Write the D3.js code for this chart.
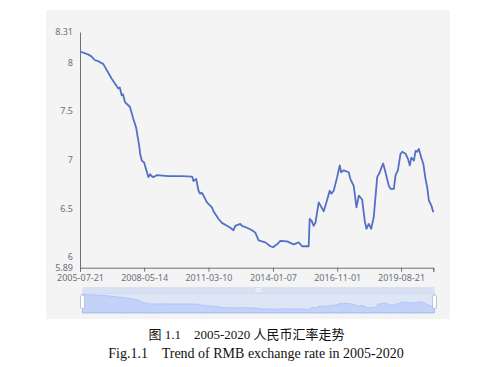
<!DOCTYPE html>
<html>
<head>
<meta charset="utf-8">
<script src="https://cdn.jsdelivr.net/npm/d3@7"></script>
<style>
  html, body { margin: 0; padding: 0; background: #fff; }
  svg { display: block; }
  .caption { white-space: pre; }
</style>
</head>
<body>
<svg id="chart" width="501" height="367" viewBox="0 0 501 367"></svg>
<script>
// USD/CNY rate
const dates = [
  "2005-07-21", "2005-11-26", "2006-01-20", "2006-03-18", "2006-05-10", "2006-07-30", "2006-12-11",
  "2007-03-27", "2007-04-20", "2007-05-20", "2007-06-10", "2007-07-12", "2007-09-30", "2007-11-22",
  "2008-01-06", "2008-02-27", "2008-03-10", "2008-04-06", "2008-05-13",
  "2008-07-21", "2008-08-18", "2008-09-10", "2008-10-09", "2008-12-03", "2009-06-01",
  "2010-01-10", "2010-06-23", "2010-07-13", "2010-08-26", "2010-10-02",
  "2010-10-29", "2010-11-25", "2010-12-21", "2011-02-14", "2011-05-05",
  "2011-05-30", "2011-08-19", "2011-10-12", "2011-12-31", "2012-02-23",
  "2012-04-15", "2012-05-13", "2012-08-01", "2012-08-28", "2012-11-16",
  "2013-02-05", "2013-03-30", "2013-05-22", "2013-09-06", "2013-11-26",
  "2014-01-08", "2014-03-13", "2014-05-05", "2014-08-21", "2014-12-04",
  "2015-02-23", "2015-04-18", "2015-08-02", "2015-08-18", "2015-09-19",
  "2015-10-21", "2015-11-18", "2016-01-10", "2016-02-06", "2016-03-30",
  "2016-05-12", "2016-07-04", "2016-07-31", "2016-09-06", "2016-10-31",
  "2016-12-12", "2017-01-03", "2017-02-14", "2017-05-05", "2017-06-01",
  "2017-07-24", "2017-09-06", "2017-10-13", "2017-12-06", "2018-01-17",
  "2018-02-13", "2018-03-22", "2018-04-30", "2018-06-10", "2018-08-04",
  "2018-09-15", "2018-10-12", "2018-11-08", "2018-12-15", "2019-02-06",
  "2019-03-06", "2019-04-28", "2019-05-25", "2019-07-01", "2019-08-13",
  "2019-09-09", "2019-11-01", "2019-12-08", "2020-01-09", "2020-02-01",
  "2020-03-14", "2020-04-10", "2020-05-07", "2020-06-02", "2020-07-10",
  "2020-08-11", "2020-09-17", "2020-10-15", "2020-11-09", "2020-12-18",
  "2021-01-19"
];
const rates = [
  8.11, 8.08, 8.06, 8.02, 8.01, 7.98, 7.83,
  7.73, 7.74, 7.66, 7.67, 7.59, 7.54, 7.42,
  7.33, 7.13, 7.06, 6.99, 6.97,
  6.82, 6.85, 6.83, 6.82, 6.84, 6.83,
  6.83, 6.825, 6.78, 6.80, 6.68,
  6.65, 6.66, 6.63, 6.56, 6.51,
  6.47, 6.39, 6.35, 6.32, 6.30,
  6.275, 6.32, 6.34, 6.32, 6.30,
  6.275, 6.25, 6.17, 6.15, 6.11,
  6.10, 6.13, 6.165, 6.16, 6.13,
  6.15, 6.11, 6.11, 6.39, 6.37,
  6.32, 6.35, 6.56, 6.53, 6.47,
  6.56, 6.68, 6.65, 6.68, 6.82,
  6.94, 6.87, 6.89, 6.87, 6.80,
  6.73, 6.51, 6.63, 6.59, 6.37,
  6.29, 6.34, 6.29, 6.41, 6.82,
  6.87, 6.92, 6.96, 6.87, 6.73,
  6.70, 6.70, 6.84, 6.89, 7.06,
  7.08, 7.06, 7.01, 6.94, 7.02,
  6.99, 7.09, 7.08, 7.11, 7.02,
  6.96, 6.80, 6.71, 6.58, 6.53,
  6.46
];
const xTickLabels = ["2005-07-21", "2008-05-14", "2011-03-10", "2014-01-07", "2016-11-01", "2019-08-21"];
const yTickValues = [5.89, 6, 6.5, 7, 7.5, 8, 8.31];
const captionCn = "图 1.1    2005-2020 人民币汇率走势";
const captionEn = "Fig.1.1    Trend of RMB exchange rate in 2005-2020";

const parse = d3.timeParse("%Y-%m-%d");
const data = dates.map((d, i) => ({ date: parse(d), value: rates[i] }));

const svg = d3.select("#chart");
const axisColor = "#6e7079";
const tickFont = "'Noto Sans', 'DejaVu Sans', sans-serif";

// panel background
svg.append("rect")
  .attr("x", 46).attr("y", 10)
  .attr("width", 404).attr("height", 309)
  .attr("fill", "#f4f4f4");

const x = d3.scaleTime()
  .domain(d3.extent(data, (d) => d.date))
  .range([80, 433.3]);
const y = d3.scaleLinear()
  .domain([5.89, 8.31])
  .range([267.7, 32]);

// y axis: line and labels, no ticks
const yAxis = svg.append("g")
  .attr("transform", "translate(80,0)")
  .call(d3.axisLeft(y).tickValues(yTickValues).tickSize(0).tickPadding(7)
    .tickFormat((d) => String(d)));
yAxis.select(".domain").attr("stroke", axisColor);
yAxis.selectAll("text")
  .attr("fill", axisColor)
  .style("font-family", tickFont)
  .style("font-size", "9px");

// x axis
const xTicks = xTickLabels.map(parse).concat([x.domain()[1]]);
const xAxis = svg.append("g")
  .attr("transform", "translate(0,267.7)")
  .call(d3.axisBottom(x).tickValues(xTicks).tickSizeOuter(0).tickSize(4).tickPadding(3)
    .tickFormat((d, i) => xTickLabels[i] || ""));
xAxis.select(".domain").attr("stroke", axisColor);
xAxis.selectAll("line").attr("stroke", axisColor);
xAxis.selectAll("text")
  .attr("fill", axisColor)
  .style("font-family", tickFont)
  .style("font-size", "9px");

// series line
svg.append("path")
  .datum(data)
  .attr("fill", "none")
  .attr("stroke", "#5470c6")
  .attr("stroke-width", 1.8)
  .attr("stroke-linejoin", "round")
  .attr("d", d3.line().x((d) => x(d.date)).y((d) => y(d.value)));

// data zoom slider
const sx0 = 82.5, sx1 = 434.5, sTop = 287, sMove = 293, sBot = 313;
const sx = x.copy().range([sx0, sx1]);
const sy = d3.scaleLinear().domain([5.6, 8.31]).range([sBot, sMove]);
const slider = svg.append("g");

slider.append("rect")
  .attr("x", sx0).attr("y", sMove)
  .attr("width", sx1 - sx0).attr("height", sBot - sMove)
  .attr("fill", "none").attr("stroke", "#d2dbee");

slider.append("path")
  .datum(data)
  .attr("fill", "rgba(143,176,247,0.35)")
  .attr("stroke", "rgba(143,176,247,0.6)")
  .attr("stroke-width", 0.8)
  .attr("d", d3.area().x((d) => sx(d.date)).y0(sBot).y1((d) => sy(d.value)));

slider.append("rect")
  .attr("x", sx0).attr("y", sMove)
  .attr("width", sx1 - sx0).attr("height", sBot - sMove)
  .attr("fill", "rgba(135,175,255,0.2)");

slider.append("rect")
  .attr("x", sx0).attr("y", sTop)
  .attr("width", sx1 - sx0).attr("height", sMove - sTop)
  .attr("fill", "#d8e0f2");

// little grip in the middle of the move bar
const gx = (sx0 + sx1) / 2;
[-1.3, 0, 1.3].forEach((dy) => {
  slider.append("line")
    .attr("x1", gx - 3).attr("x2", gx + 3)
    .attr("y1", (sTop + sMove) / 2 + dy).attr("y2", (sTop + sMove) / 2 + dy)
    .attr("stroke", "#fff").attr("stroke-width", 0.6);
});

[sx0, sx1].forEach((hx) => {
  slider.append("rect")
    .attr("x", hx - 2).attr("y", 295)
    .attr("width", 4).attr("height", 13.5)
    .attr("rx", 1.5)
    .attr("fill", "#fff")
    .attr("stroke", "#acb8d1")
    .attr("stroke-width", 0.8);
});

// captions
const captionFont = "'Liberation Serif', 'Noto Sans CJK SC', serif";
svg.append("text")
  .attr("class", "caption")
  .attr("x", 246.5).attr("y", 338.5)
  .attr("text-anchor", "middle")
  .style("font-family", captionFont)
  .style("font-size", "13px")
  .attr("fill", "#111")
  .text(captionCn);
svg.append("text")
  .attr("class", "caption")
  .attr("x", 256).attr("y", 357.5)
  .attr("text-anchor", "middle")
  .style("font-family", captionFont)
  .style("font-size", "14px")
  .attr("fill", "#111")
  .text(captionEn);
</script>
</body>
</html>
